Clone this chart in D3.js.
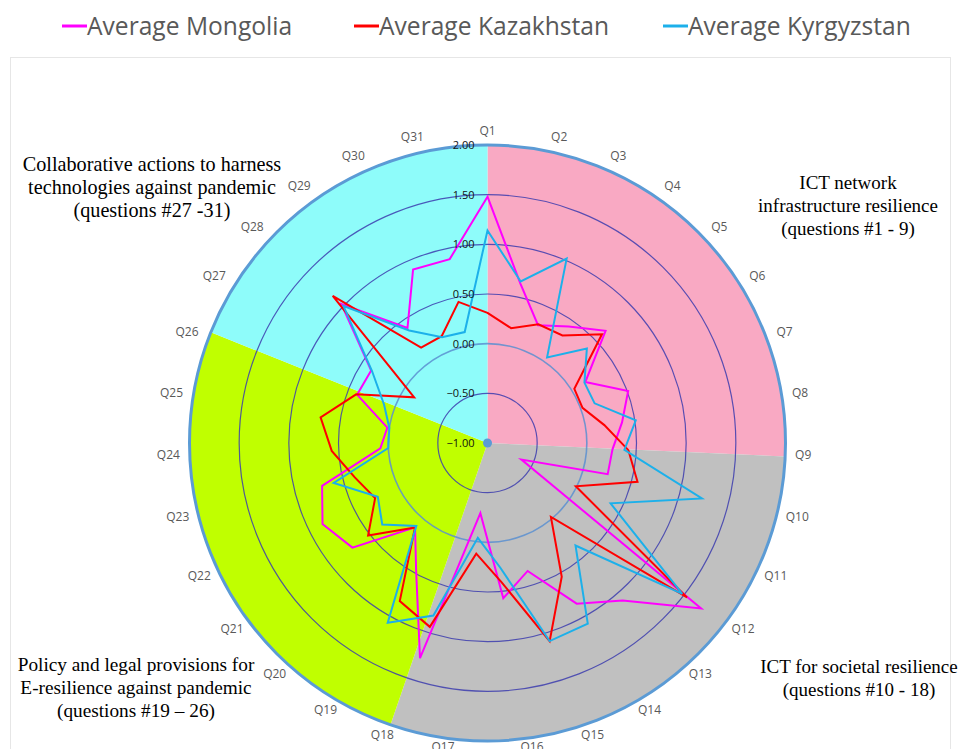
<!DOCTYPE html>
<html>
<head>
<meta charset="utf-8">
<script src="https://cdn.jsdelivr.net/npm/d3@7"></script>
<style>
  body { margin: 0; background: #fff; }
  svg { display: block; }
</style>
</head>
<body>
<div class="dataviz"></div>
<script>
// radar chart: 31 questions, three country averages

var questions = ["Q1","Q2","Q3","Q4","Q5","Q6","Q7","Q8","Q9","Q10","Q11","Q12","Q13","Q14","Q15","Q16",
  "Q17","Q18","Q19","Q20","Q21","Q22","Q23","Q24","Q25","Q26","Q27","Q28","Q29","Q30","Q31"];

var mongolia   = [1.48, 0.64, 0.29, 0.43, 0.64, 0.16, 0.51, 0.37, 0.26, 0.25, -0.62, 1.72, 1.09, 0.85, 0.35, 0.57,
  -0.29, 1.27, 0.48, 0.12, 0.72, 0.85, 0.72, 0.08, 0.02, 0.40, 0.38, 1.03, 0.41, 0.90, 0.89];
var kazakhstan = [0.31, 0.18, 0.30, 0.32, 0.59, 0.03, 0.02, 0.19, 0.42, 0.56, -0.01, 1.54, -0.02, 0.54, 1.09, 0.41,
  0.12, 0.94, 0.82, 0.12, 0.52, 0.26, 0.38, 0.57, 0.70, 0.41, -0.13, 1.15, 0.17, 0.17, 0.45];
var kyrgyzstan = [1.14, 0.66, 1.02, 0.05, 0.38, 0.15, 0.15, 0.51, 0.38, 1.23, 0.38, 1.48, 0.36, 1.08, 1.09, 0.26,
  -0.04, 0.82, 1.07, 0.10, 0.34, 0.23, 0.60, 0.00, 0.00, 0.11, 0.37, 1.00, 0.38, 0.16, 0.14];

var seriesNames = ["Average Mongolia", "Average Kazakhstan", "Average Kyrgyzstan"];
var radialTicks = [-1.00, -0.50, 0.00, 0.50, 1.00, 1.50, 2.00];

// background sectors (degrees of the full circle)
var sectorShares = [92.6, 106.4, 92.8, 68.2];
var sectorNotes = [
  ["ICT network", "infrastructure resilience", "(questions #1 - 9)"],
  ["ICT for societal resilience", "(questions #10 - 18)"],
  ["Policy and legal provisions for", "E-resilience against pandemic", "(questions #19 \u2013 26)"],
  ["Collaborative actions to harness", "technologies against pandemic", "(questions #27 -31)"]
];

var width = 961, height = 749;
var cx = 487.5, cy = 443, radius = 298;

var lineColors = ["#ff00ff", "#ff0000", "#1cb0ea"];
var sectorColors = ["#f9a9c3", "#c0c0c0", "#c0ff00", "#8efcfa"];

var canvas = d3.select(".dataviz").append("svg")
  .attr("width", width)
  .attr("height", height);

canvas.append("rect")
  .attr("width", width).attr("height", height)
  .attr("fill", "#fff");

// faint chart frame
canvas.append("rect")
  .attr("x", 10.5).attr("y", 57.5)
  .attr("width", 940).attr("height", 720)
  .attr("fill", "none")
  .attr("stroke", "#e6e6e6");

// legend
var legendX = [62, 354, 663];
var legend = canvas.append("g").selectAll("g")
  .data(seriesNames).enter().append("g")
  .attr("transform", function(d, i) { return "translate(" + legendX[i] + ",26)"; });

legend.append("line")
  .attr("x1", 0).attr("x2", 25)
  .attr("stroke", function(d, i) { return lineColors[i]; })
  .attr("stroke-width", 3);

legend.append("text")
  .attr("x", 25).attr("y", 9)
  .attr("font-family", "Open Sans")
  .attr("font-size", 24.6)
  .attr("fill", "#595959")
  .text(function(d) { return d; });

var r = d3.scaleLinear().domain([-1, 2]).range([0, radius]);
var angle = d3.scaleLinear().domain([0, questions.length]).range([0, 2 * Math.PI]);

var paint = canvas.append("g").attr("transform", "translate(" + cx + "," + cy + ")");

// sectors
var pie = d3.pie().sort(null).value(function(d) { return d; });
var arc = d3.arc().innerRadius(0).outerRadius(radius);

paint.selectAll(".sector")
  .data(pie(sectorShares)).enter()
  .append("path")
  .attr("class", "sector")
  .attr("d", arc)
  .attr("fill", function(d, i) { return sectorColors[i]; });

// rings
paint.selectAll(".ring")
  .data(radialTicks.slice(1, -1)).enter()
  .append("circle")
  .attr("class", "ring")
  .attr("r", function(d) { return r(d); })
  .attr("fill", "none")
  .attr("stroke", function(d) { return d === 0 ? "#5b8fd0" : "#3c3cae"; })
  .attr("stroke-opacity", 0.85)
  .attr("stroke-width", function(d) { return d === 0 ? 1.6 : 1.2; });

paint.append("circle")
  .attr("r", r(2))
  .attr("fill", "none")
  .attr("stroke", "#5b9bd5")
  .attr("stroke-width", 3);

// series lines
var radar = d3.lineRadial()
  .angle(function(d, i) { return angle(i); })
  .radius(function(d) { return r(d); })
  .curve(d3.curveLinearClosed);

paint.selectAll(".series")
  .data([mongolia, kazakhstan, kyrgyzstan]).enter()
  .append("path")
  .attr("class", "series")
  .attr("d", radar)
  .attr("fill", "none")
  .attr("stroke", function(d, i) { return lineColors[i]; })
  .attr("stroke-width", 2)
  .attr("stroke-linejoin", "miter");

// centre dot
paint.append("circle")
  .attr("r", 4.5)
  .attr("fill", "#5b9bd5");

// radial tick labels
paint.selectAll(".tick")
  .data(radialTicks).enter()
  .append("text")
  .attr("class", "tick")
  .attr("x", -13)
  .attr("y", function(d) { return -r(d); })
  .attr("dy", "0.35em")
  .attr("text-anchor", "end")
  .attr("font-family", "Open Sans")
  .attr("font-size", 11)
  .attr("fill", "#111")
  .text(function(d) { return d3.format(".2f")(d); });

// question labels, anchored on the side facing away from the centre
var labelR = 306;
paint.selectAll(".qlabel")
  .data(questions).enter()
  .append("text")
  .attr("class", "qlabel")
  .attr("x", function(d, i) {
    var s = Math.sin(angle(i));
    return s * labelR + (Math.abs(s) < 0.05 ? 0 : (s > 0 ? 2 : -2));
  })
  .attr("y", function(d, i) {
    var c = Math.cos(angle(i));
    return -c * labelR - 3.5 - 3 * c;
  })
  .attr("dy", "0.35em")
  .attr("text-anchor", function(d, i) {
    var s = Math.sin(angle(i));
    return Math.abs(s) < 0.05 ? "middle" : (s > 0 ? "start" : "end");
  })
  .attr("font-family", "Open Sans")
  .attr("font-size", 12)
  .attr("fill", "#595959")
  .text(function(d) { return d; });

// sector notes
var notePos = [[848, 189], [859, 673], [136, 671], [152, 171]];
var noteSize = [19, 19, 19.3, 20.2];
var notes = canvas.append("g").selectAll("text")
  .data(sectorNotes).enter()
  .append("text")
  .attr("font-family", "Liberation Serif")
  .attr("font-size", function(d, i) { return noteSize[i]; })
  .attr("fill", "#000")
  .attr("text-anchor", "middle")
  .attr("transform", function(d, i) { return "translate(" + notePos[i][0] + "," + notePos[i][1] + ")"; });

notes.selectAll("tspan")
  .data(function(d) { return d; }).enter()
  .append("tspan")
  .attr("x", 0)
  .attr("y", function(d, i) { return i * 22.8; })
  .text(function(d) { return d; });
</script>
</body>
</html>
